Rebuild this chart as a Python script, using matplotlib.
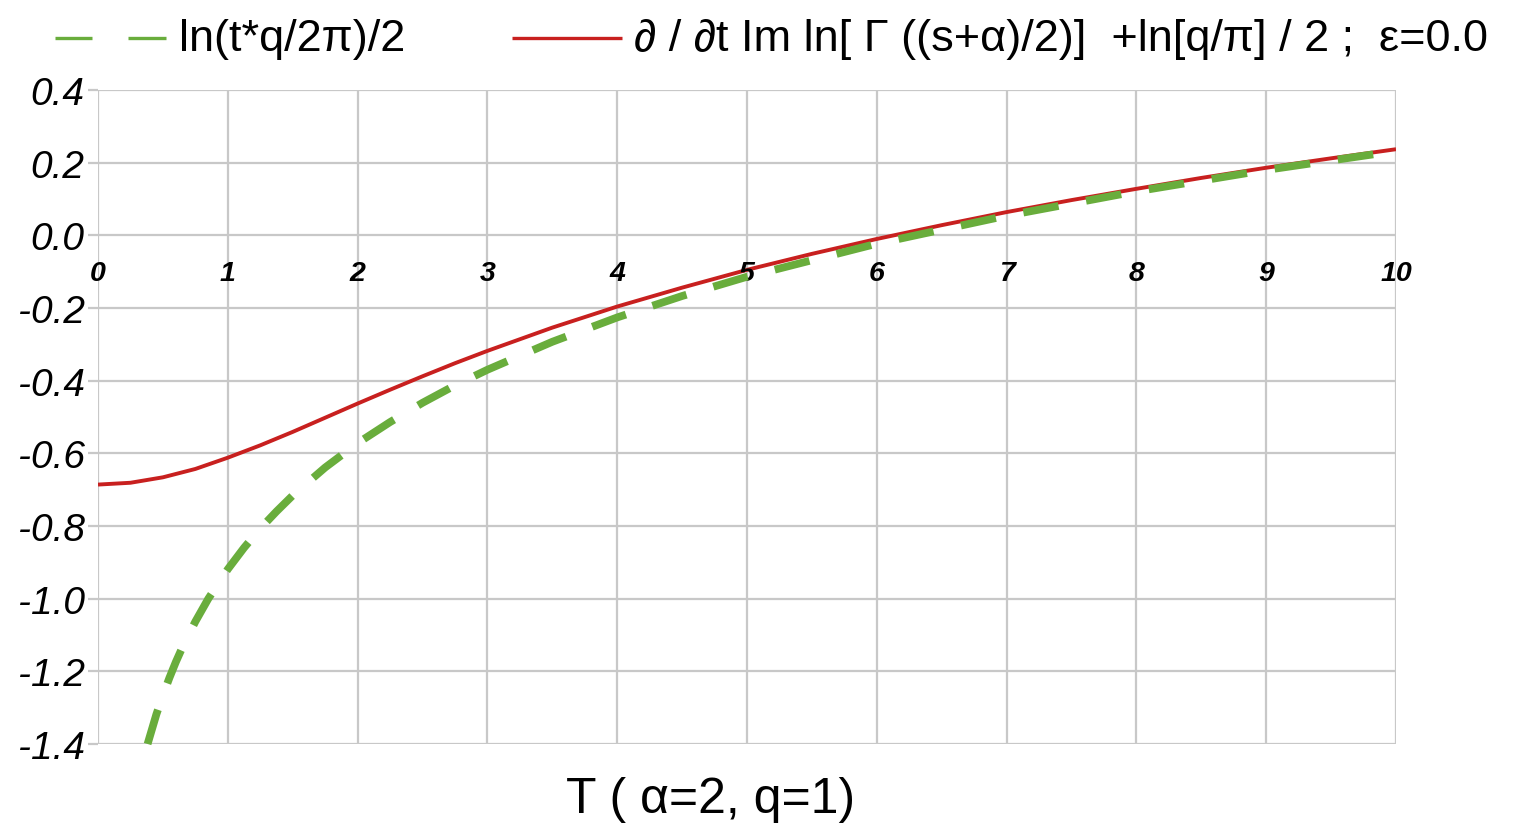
import matplotlib
matplotlib.use("Agg")
import matplotlib.pyplot as plt
from matplotlib.lines import Line2D

plt.rcParams['font.family'] = ['Liberation Sans', 'DejaVu Sans']

# ---- data ----
t_red = [0, 0.25, 0.5, 0.75, 1, 1.25, 1.5, 1.75, 2, 2.25, 2.5, 2.75, 3, 3.5, 4, 4.5,
         5, 5.5, 6, 6.5, 7, 7.5, 8, 8.5, 9, 9.5, 10]
y_red = [-0.686, -0.681, -0.666, -0.643, -0.612, -0.578, -0.541, -0.502, -0.463, -0.425,
         -0.388, -0.352, -0.318, -0.254, -0.196, -0.144, -0.095, -0.051, -0.010, 0.028,
         0.064, 0.097, 0.128, 0.158, 0.186, 0.212, 0.237]

t_green = [0.382, 0.45, 0.5, 0.55, 0.6, 0.65, 0.75, 0.85, 1, 1.125, 1.25, 1.375, 1.5, 1.75,
           2, 2.25, 2.5, 2.75, 3, 3.5, 4, 4.5, 5, 6, 7, 8, 9, 10]
y_green = [-1.400, -1.318, -1.266, -1.218, -1.174, -1.134, -1.063, -1.000, -0.919, -0.860,
           -0.807, -0.760, -0.716, -0.639, -0.572, -0.514, -0.461, -0.413, -0.370, -0.293,
           -0.226, -0.167, -0.114, -0.023, 0.054, 0.121, 0.180, 0.232]

x_ticks = [0, 1, 2, 3, 4, 5, 6, 7, 8, 9, 10]
y_ticks = [0.4, 0.2, 0.0, -0.2, -0.4, -0.6, -0.8, -1.0, -1.2, -1.4]

label_green = "ln(t*q/2π)/2"
label_red = "∂ / ∂t Im ln[ Γ ((s+α)/2)]  +ln[q/π] / 2 ;  ε=0.0"
x_title = "T ( α=2, q=1)"

GREEN = '#69ad3c'
RED = '#c8201f'
GRID = '#c8c8c8'

W, H = 1522, 837
fig = plt.figure(figsize=(W / 100, H / 100), dpi=100)
ax = fig.add_axes([98 / W, 1 - 745 / H, (1396 - 98) / W, (745 - 91) / H])

ax.set_xlim(0, 10)
ax.set_ylim(-1.4, 0.4)

ax.plot(t_red, y_red, color=RED, lw=2.8, solid_capstyle='butt', solid_joinstyle='round', zorder=3)
ax.plot(t_green, y_green, color=GREEN, lw=5.6, dashes=(4.6, 3.6),
        dash_capstyle='butt', zorder=4, clip_on=False)

for s in ax.spines.values():
    s.set_visible(False)

ax.set_xticks(x_ticks)
ax.set_yticks(y_ticks)
ax.grid(True, color=GRID, lw=1.6)
ax.set_axisbelow(True)
ax.tick_params(axis='x', length=0, labelbottom=False)
ax.tick_params(axis='y', length=7, width=1.6, color=GRID, pad=2.5)
ax.set_yticklabels([f"{v:.1f}" for v in y_ticks], fontsize=28, fontstyle='italic')

# x tick labels placed on the zero line
for xv in x_ticks:
    ax.annotate(str(xv), xy=(xv, 0), xytext=(0, -32.5), textcoords='offset points',
                ha='center', va='baseline', fontsize=20.5, fontweight='bold',
                fontstyle='italic', color='black', annotation_clip=False)

fig.text(711 / W, 1 - 800 / H, x_title, ha='center', va='center', fontsize=36)

# legend (manual)
ly = 1 - 39 / H
fig.add_artist(Line2D([55 / W, 92 / W], [ly, ly], color=GREEN, lw=2.4, solid_capstyle='butt'))
fig.add_artist(Line2D([128 / W, 166 / W], [ly, ly], color=GREEN, lw=2.4, solid_capstyle='butt'))
fig.text(179 / W, ly, label_green, ha='left', va='center', fontsize=32.5)
fig.add_artist(Line2D([512 / W, 622 / W], [ly, ly], color=RED, lw=2.4, solid_capstyle='butt'))
fig.text(634 / W, ly, label_red, ha='left', va='center', fontsize=32.5)

fig.savefig("out.png", dpi=100, facecolor='white')
